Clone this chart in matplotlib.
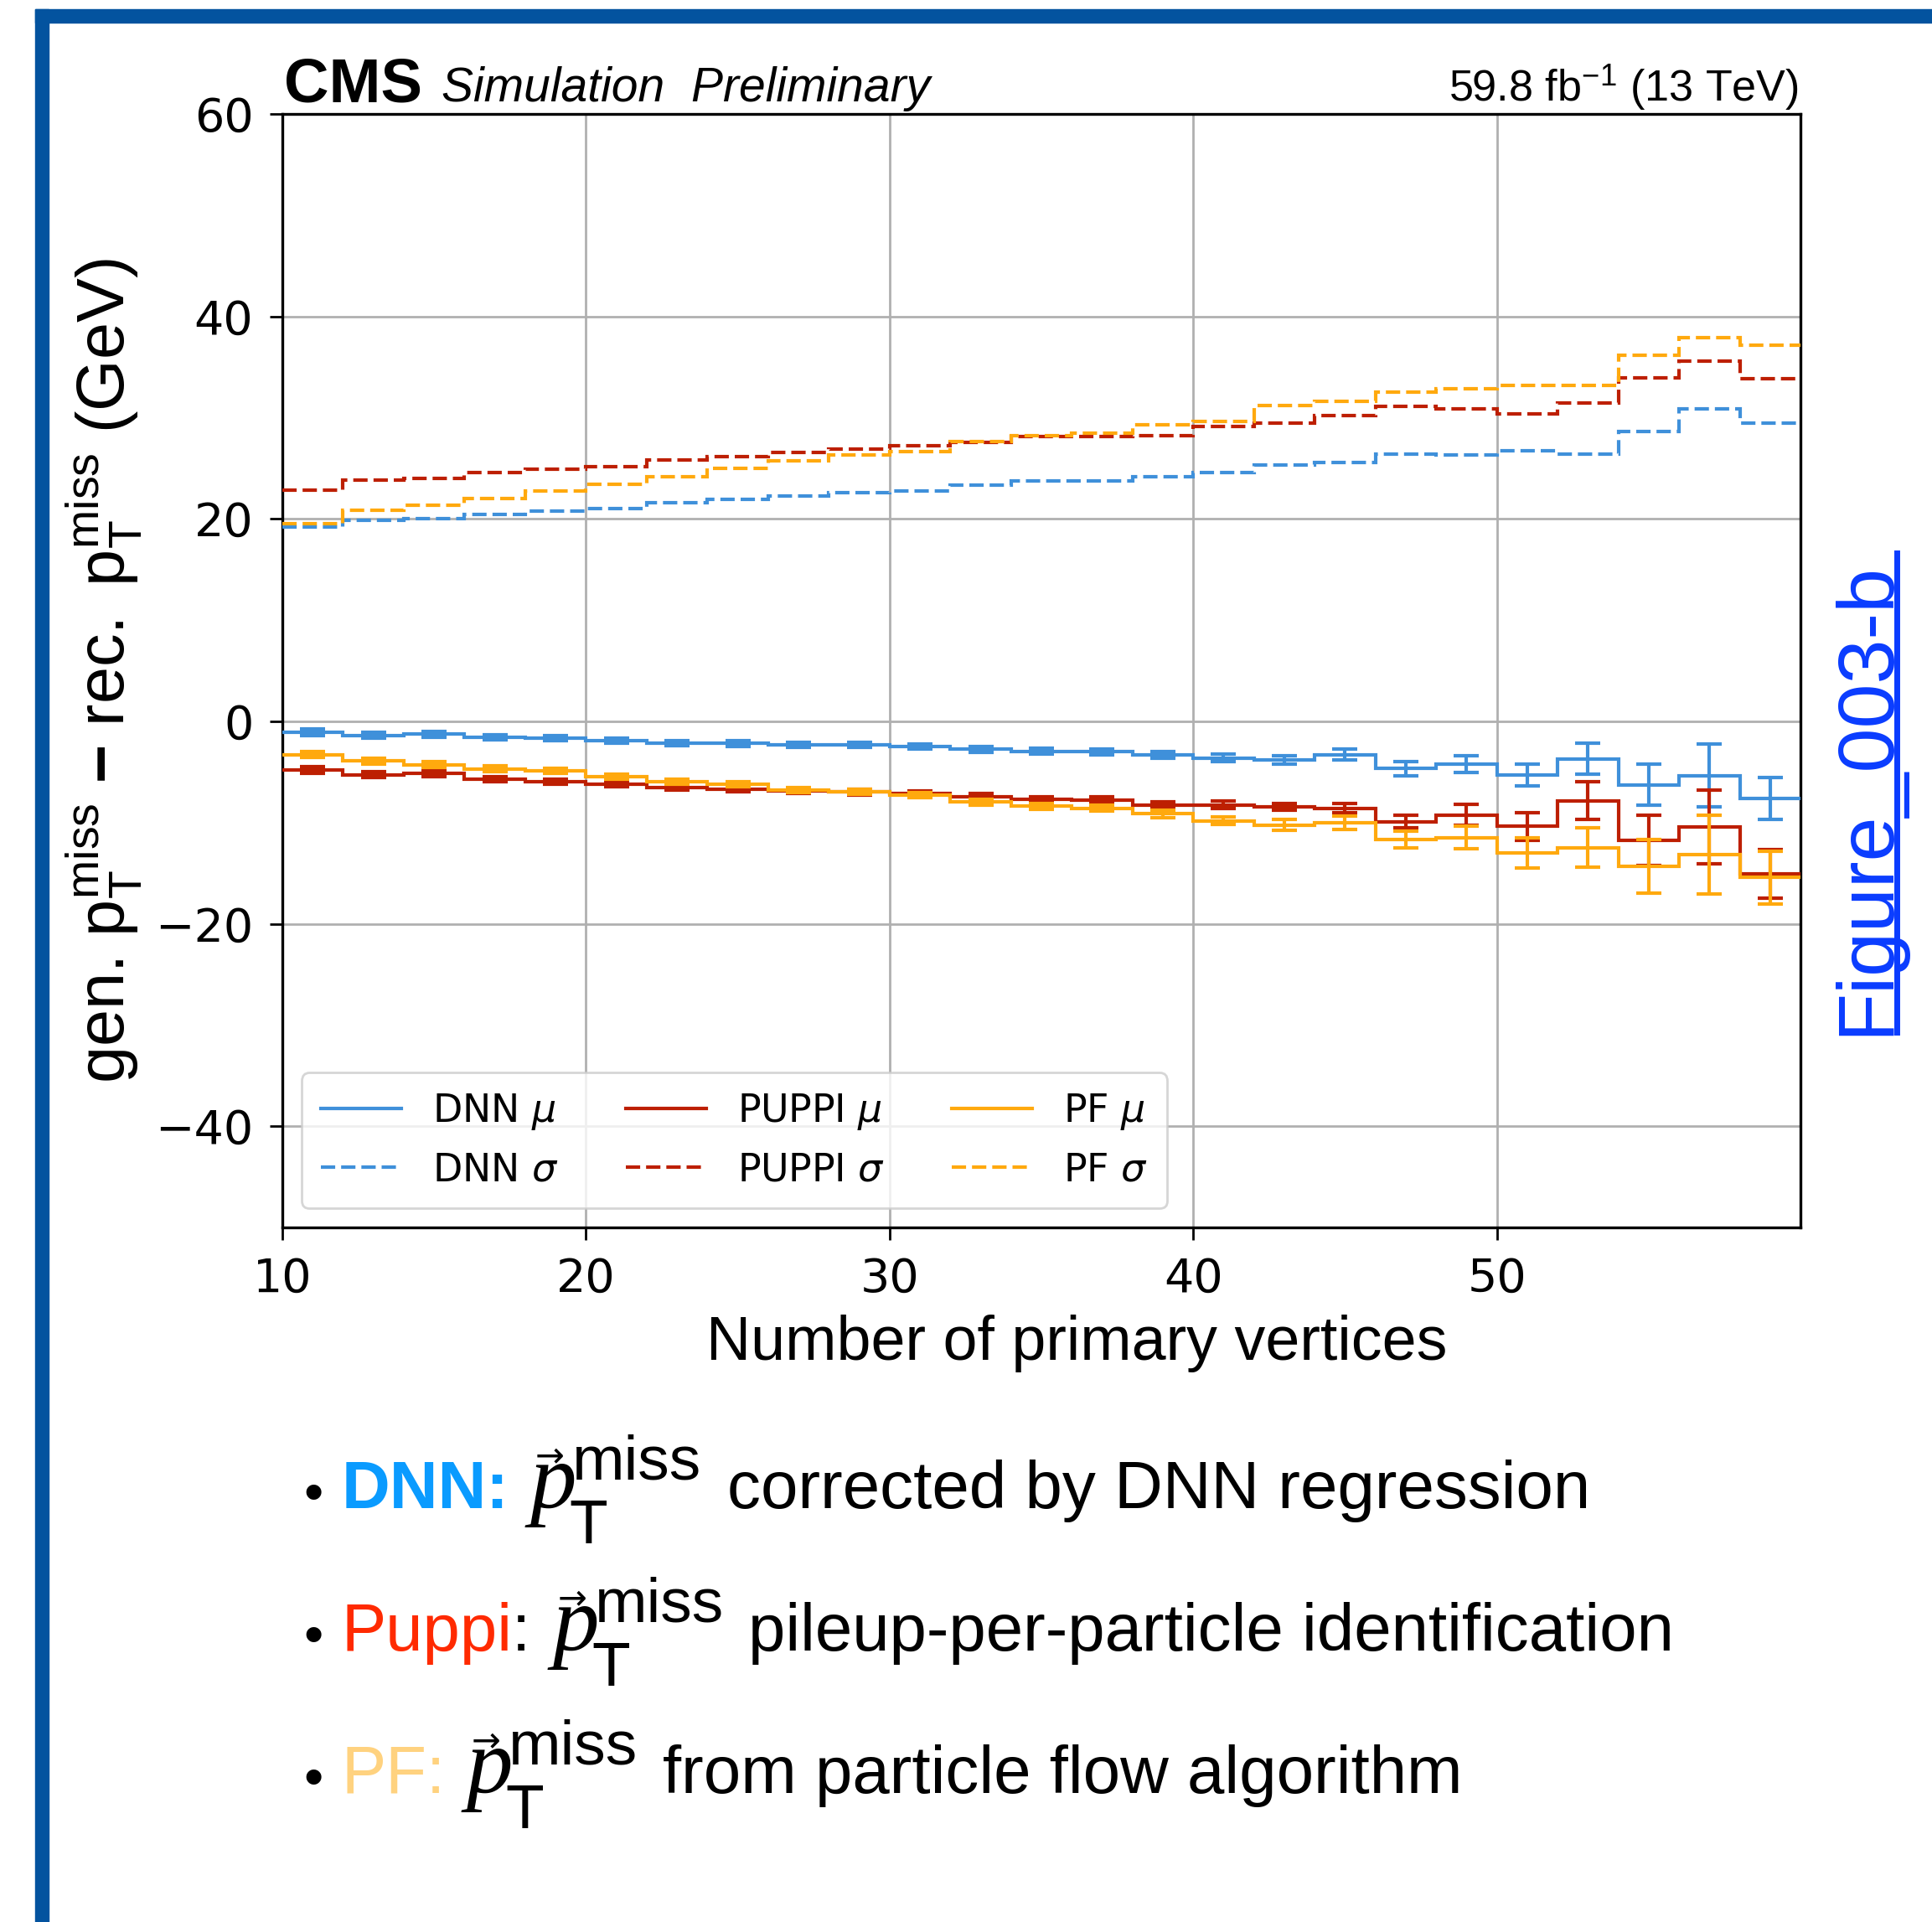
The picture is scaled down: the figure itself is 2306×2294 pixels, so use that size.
import matplotlib
matplotlib.use("Agg")
import matplotlib.pyplot as plt
from matplotlib.lines import Line2D
from matplotlib.patches import Rectangle
import numpy as np

# ---------------------------------------------------------------- data
edges = np.arange(10, 62, 2)          # bins of the number of primary vertices

dnn_mu = [-1.07, -1.40, -1.27, -1.57, -1.68, -1.90, -2.18, -2.20, -2.34, -2.31,
          -2.48, -2.78, -2.95, -3.00, -3.34, -3.61, -3.78, -3.28, -4.66, -4.22,
          -5.30, -3.72, -6.26, -5.35, -7.61]
dnn_err = [0.32, 0.30, 0.28, 0.27, 0.26, 0.25, 0.25, 0.25, 0.25, 0.25,
           0.26, 0.27, 0.28, 0.30, 0.35, 0.41, 0.41, 0.50, 0.69, 0.86,
           1.10, 1.54, 2.06, 3.13, 2.06]
dnn_sigma = [19.23, 19.86, 20.00, 20.47, 20.80, 21.05, 21.57, 21.93, 22.29, 22.60,
             22.76, 23.30, 23.75, 23.73, 24.14, 24.56, 25.33, 25.58, 26.40, 26.32,
             26.74, 26.38, 28.67, 30.88, 29.47]

puppi_mu = [-4.83, -5.27, -5.16, -5.71, -5.96, -6.21, -6.51, -6.70, -6.87, -7.00,
            -7.15, -7.42, -7.73, -7.75, -8.30, -8.25, -8.44, -8.58, -9.91, -9.27,
            -10.38, -7.84, -11.76, -10.46, -15.07]
puppi_err = [0.32, 0.30, 0.28, 0.27, 0.26, 0.25, 0.25, 0.25, 0.25, 0.25,
             0.26, 0.27, 0.28, 0.30, 0.33, 0.36, 0.36, 0.48, 0.64, 1.03,
             1.36, 1.86, 2.50, 3.64, 2.40]
puppi_sigma = [22.82, 23.87, 24.00, 24.60, 24.89, 25.19, 25.80, 26.16, 26.54, 26.93,
               27.20, 27.57, 28.15, 28.12, 28.23, 29.14, 29.47, 30.19, 31.10, 30.83,
               30.41, 31.43, 33.92, 35.55, 33.81]

pf_mu = [-3.28, -3.92, -4.30, -4.69, -4.91, -5.46, -5.96, -6.24, -6.76, -6.98,
         -7.31, -7.98, -8.39, -8.58, -9.14, -9.83, -10.24, -10.05, -11.68, -11.48,
         -13.03, -12.48, -14.33, -13.17, -15.44]
pf_err = [0.32, 0.30, 0.28, 0.27, 0.26, 0.25, 0.25, 0.25, 0.25, 0.25,
          0.26, 0.27, 0.28, 0.30, 0.35, 0.36, 0.52, 0.66, 0.86, 1.13,
          1.50, 1.97, 2.63, 3.90, 2.63]
pf_sigma = [19.50, 20.86, 21.38, 22.05, 22.76, 23.40, 24.17, 25.00, 25.72, 26.32,
            26.68, 27.65, 28.20, 28.50, 29.30, 29.64, 31.20, 31.60, 32.48, 32.84,
            33.20, 33.15, 36.20, 37.90, 37.12]

methods = ["DNN", "PUPPI", "PF"]
x_ticks = [10, 20, 30, 40, 50]
y_ticks = [-40, -20, 0, 20, 40, 60]

# ---------------------------------------------------------------- style
W, H = 2306, 2294
colors = {"DNN": "#3f90da", "PUPPI": "#bd1f01", "PF": "#ffa90e"}
LW = 3.0
DASH = (0, (4.1, 1.7))
SANS = "Liberation Sans"

plt.rcParams.update({
    "mathtext.rm": "Liberation Sans",
    "mathtext.it": "Liberation Sans:italic",
    "mathtext.bf": "Liberation Sans:bold",
    "mathtext.sf": "Liberation Sans",
})


def fx(x):
    return x / W


def fy(y):
    return 1 - y / H


fig = plt.figure(figsize=(W / 100, H / 100), dpi=100)
fig.patch.set_facecolor("white")

# page frame
fig.patches.append(Rectangle((fx(42), fy(27)), fx(2306) - fx(42), fy(11) - fy(27),
                             transform=fig.transFigure, color="#03539f", zorder=0))
fig.patches.append(Rectangle((fx(42), 0), fx(58) - fx(42), fy(11),
                             transform=fig.transFigure, color="#03539f", zorder=0))

ax = fig.add_axes([fx(337), fy(1465), fx(2149) - fx(337), fy(136) - fy(1465)])

data = {
    "DNN": (dnn_mu, dnn_err, dnn_sigma),
    "PUPPI": (puppi_mu, puppi_err, puppi_sigma),
    "PF": (pf_mu, pf_err, pf_sigma),
}
centers = 0.5 * (edges[:-1] + edges[1:])

for m in methods:
    mu, err, sig = data[m]
    ax.stairs(sig, edges, baseline=None, color=colors[m], lw=LW, linestyle=DASH,
              zorder=3)
for m in methods:
    mu, err, sig = data[m]
    c = colors[m]
    ax.stairs(mu, edges, baseline=None, color=c, lw=LW, zorder=4)
    ax.errorbar(centers, mu, yerr=err, fmt="none", ecolor=c, elinewidth=LW,
                capsize=10.5, capthick=LW, zorder=4)

ax.set_xlim(10, 60)
ax.set_ylim(-50, 60)
ax.set_xticks(x_ticks)
ax.set_yticks(y_ticks)
ax.tick_params(axis="both", which="major", direction="out", length=11, width=2,
               labelsize=40, pad=14)
ax.grid(True, color="#b0b0b0", lw=2, zorder=0)
ax.set_axisbelow(True)
for s in ax.spines.values():
    s.set_linewidth(2.4)

handles = []
labels = []
for m in methods:
    handles.append(Line2D([], [], color=colors[m], lw=LW))
    labels.append(f"{m} $\\mu$")
    handles.append(Line2D([], [], color=colors[m], lw=LW, linestyle=DASH))
    labels.append(f"{m} $\\sigma$")
leg = ax.legend(handles, labels, loc="lower left", ncol=3, fontsize=33,
                handlelength=2.1, columnspacing=1.75, borderpad=0.5)
leg.get_frame().set_linewidth(2)

# header
fig.text(fx(339), fy(121), "CMS", family=SANS, weight="bold",
         fontsize=53.5, va="baseline", ha="left")
fig.text(fx(527), fy(121), "Simulation  Preliminary", family=SANS,
         style="italic", fontsize=41, va="baseline", ha="left")
fig.text(fx(2147), fy(121), r"59.8 fb$^{-1}$ (13 TeV)", family=SANS,
         fontsize=37.5, va="baseline", ha="right", math_fontfamily="custom")

# axis titles
fig.text(fx(1285), fy(1623), "Number of primary vertices", family=SANS,
         fontsize=53, ha="center", va="baseline")
fig.text(fx(124), fy(801),
         r"gen. $\mathrm{p}_{\mathrm{T}}^{\mathrm{miss}}\ \mathbf{-}\ \mathrm{rec.\ p}_{\mathrm{T}}^{\mathrm{miss}}$ (GeV)",
         family=SANS, fontsize=57, rotation=90, ha="center", va="center",
         math_fontfamily="custom")

# figure link on the right side
fig.text(fx(2253), fy(1236), "Figure_003-b", color="#0a3cff", rotation=90,
         rotation_mode="anchor", ha="left", va="baseline", family=SANS,
         fontsize=68.5)
fig.add_artist(Line2D([fx(2264), fx(2264)], [fy(660), fy(1232)], color="#0a3cff",
                      lw=5, transform=fig.transFigure))

# description lines
lines = [
    dict(base=1800, tag="DNN:", tag_color="#0a9bff", bold=True, colon=None,
         p_x=627, rest_x=868, rest="corrected by DNN regression"),
    dict(base=1970, tag="Puppi", tag_color="#ff2a00", bold=False, colon=":",
         p_x=654, rest_x=893, rest="pileup-per-particle identification"),
    dict(base=2140, tag="PF:", tag_color="#ffd27f", bold=False, colon=None,
         p_x=551, rest_x=791, rest="from particle flow algorithm"),
]
for ln in lines:
    b = ln["base"]
    fig.text(fx(362), fy(b + 3), "\u2022", family=SANS, fontsize=48, va="baseline")
    fig.text(fx(408), fy(b), ln["tag"], family=SANS, fontsize=57.5, va="baseline",
             color=ln["tag_color"], weight="bold" if ln["bold"] else "normal")
    if ln["colon"]:
        fig.text(fx(611), fy(b), ln["colon"], family=SANS, fontsize=57.5,
                 va="baseline")
    px = ln["p_x"]
    fig.text(fx(px + 6), fy(b), "p", family="Liberation Serif", style="italic",
             fontsize=80, va="baseline")
    fig.text(fx(px + 12), fy(b - 50), "\u2192", family="DejaVu Sans", fontsize=30,
             va="baseline")
    fig.text(fx(px + 52), fy(b + 42), "T", family=SANS, fontsize=54, va="baseline")
    fig.text(fx(px + 56), fy(b - 35), "miss", family=SANS, fontsize=54, va="baseline")
    fig.text(fx(ln["rest_x"]), fy(b), ln["rest"], family=SANS, fontsize=57.5,
             va="baseline")

fig.savefig("out.png", dpi=100)
